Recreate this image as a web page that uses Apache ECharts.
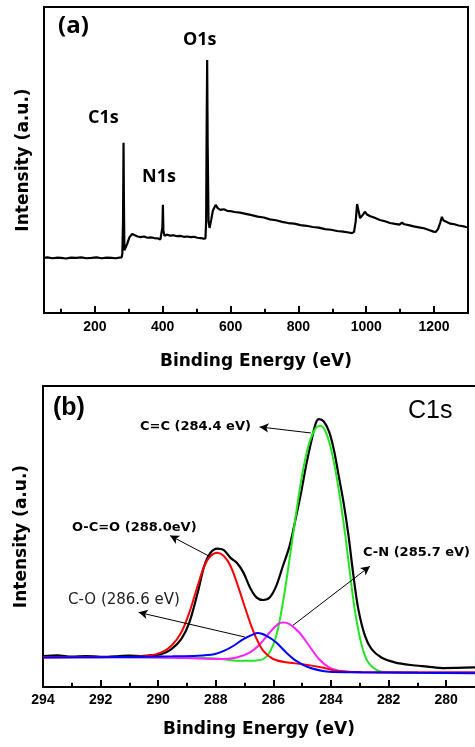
<!DOCTYPE html>
<html>
<head>
<meta charset="utf-8">
<script src="https://cdn.jsdelivr.net/npm/echarts@6/dist/echarts.min.js"></script>
<style>html,body{margin:0;padding:0;background:#fff;}#chart{width:475px;height:747px;}</style>
</head>
<body>
<div id="chart"></div>
<script>
// ---- Panel (a): survey spectrum ----
const surveyE = [50,60,75,90,100,115,130,145,160,175,190,205,220,235,250,262,272,279,281,283,284.5,285.5,287,290,295,302,310,318,326,335,345,355,365,375,385,393,397,399,400.5,402,405,412,422,432,442,452,462,472,482,492,502,512,520,526,528,529.5,531,532.5,535,538,543,548,556,562,570,580,590,600,612,628,645,662,680,698,716,734,752,770,788,806,824,842,860,878,896,914,932,948,958,964,969,973,977,982,987,992,996,1002,1012,1025,1040,1055,1070,1085,1098,1105,1112,1125,1140,1155,1170,1185,1198,1205,1212,1218,1223,1228,1236,1248,1260,1272,1284,1294,1300];
const surveyI = [18.0,18.2,17.9,18.1,18.0,17.8,18.1,18.0,18.2,17.9,18.0,18.2,17.9,18.1,18.0,17.9,18.1,18.2,19.5,30,55.6,38,20.5,20.2,22.5,24.8,25.8,25.4,25.0,24.8,25.0,24.6,24.7,24.5,24.4,24.0,24.3,28,35.4,27,25.2,25.6,25.3,25.4,25.1,25.2,24.9,25.0,24.8,24.9,24.6,24.5,24.3,24.4,30,60,82.7,55,30,27.8,30.5,33.5,35.3,34.3,33.7,33.9,33.4,33.3,33.0,32.8,32.4,32.0,31.5,31.2,30.6,30.3,29.8,29.4,29.2,28.7,28.5,28.1,27.9,27.4,27.2,26.8,26.6,26.3,26.1,26.5,30,35.6,33.5,31,30.6,32.4,33.1,32.2,31.6,31.1,30.4,30.0,29.4,29.1,28.9,29.5,29.0,28.7,28.3,28.0,27.7,27.1,26.6,26.5,27.5,29.5,31.4,30.2,29.8,29.2,29.0,28.6,28.4,28.1,28.0];
const surveyMajorTicks = [200,400,600,800,1000,1200];
const surveyMinorTicks = [100,300,500,700,900,1100];

// ---- Panel (b): C1s high-resolution ----
const blackE = [294,293.5,293,292.5,292,291.5,291,290.6,290.3,289.9,289.54,289.2,288.92,288.63,288.4,288.18,287.95,287.72,287.49,287.27,287.04,286.81,286.58,286.35,286.13,285.9,285.67,285.44,285.21,285.04,284.87,284.7,284.53,284.42,284.25,284.07,283.9,283.73,283.56,283.39,283.22,283.05,282.82,282.59,282.25,281.79,281.23,280.66,280.09,279.0];
const blackV = [10.3,10.5,10.1,10.3,10.0,10.2,10.4,10.3,10.5,10.9,12.6,15.9,21.4,31.3,40.2,44.6,46.0,45.5,42.9,41.3,38.0,33.0,29.7,28.9,29.7,33.6,40.2,46.8,56.7,64.5,73.3,81.0,87.6,89.0,88.2,84.9,78.8,70.0,61.1,50.1,36.9,25.8,17.0,12.6,9.8,8.2,7.3,6.8,6.3,6.5];
const greenE = [294,290,288,287.4,287.0,286.6,286.35,286.13,285.9,285.67,285.44,285.21,284.99,284.76,284.53,284.36,284.19,284.02,283.85,283.68,283.5,283.33,283.16,282.93,282.71,282.37,282.02,279.0];
const greenV = [9.9,9.8,9.5,8.8,8.7,8.8,9.3,11.5,17.0,28.0,42.4,57.8,71.1,81.0,86.0,86.8,84.9,79.9,72.2,62.3,50.1,36.9,24.7,13.7,8.2,5.4,4.9,4.8];
const redE = [294,291,290.34,289.89,289.54,289.2,288.92,288.63,288.4,288.18,287.95,287.72,287.49,287.27,287.04,286.81,286.58,286.35,286.01,285.56,284.99,284.3,283.85,282.93,279.0];
const redV = [9.9,10.0,10.4,11.5,13.7,18.1,24.7,33.6,40.2,43.5,44.6,43.5,40.2,34.7,28.0,21.4,15.9,12.0,9.3,8.2,7.6,6.5,5.4,4.9,4.8];
const blueE = [294,292,290.9,289.5,288.63,288.06,287.72,287.38,287.04,286.7,286.53,286.24,285.9,285.56,285.21,284.76,284.07,282.93,281,279.0];
const blueV = [9.8,9.9,10.0,10.2,10.4,10.9,12.0,13.7,15.9,17.5,17.9,17.0,14.8,11.5,8.7,6.5,5.1,4.9,4.7,4.6];
const magE = [294,290,288.63,287.72,287.27,286.81,286.47,286.13,285.84,285.67,285.44,285.1,284.76,284.42,284.07,283.73,283.16,279.0];
const magV = [9.9,9.8,9.5,9.3,9.8,11.5,14.2,18.1,20.9,21.4,20.9,18.1,13.7,9.3,6.5,5.4,4.9,4.8];
const c1sMajorTicks = [280,282,284,286,288,290,292,294];
const c1sMinorTicks = [281,283,285,287,289,291,293];
// annotation arrows: [fromE, fromV, toE, toV]
const arrows = [
  [284.70, 84.4, 286.48, 86.4],
  [288.22, 43.4, 289.59, 50.3],
  [286.99, 16.6, 290.68, 24.8],
  [285.32, 20.5, 282.65, 40.1]
];
// text annotations
const notes = [
  {text:'(a)', left:58, top:14, font:{fontFamily:'Open Sans', fontWeight:'bold', fontSize:24}},
  {text:'C1s', left:88, top:109, font:{fontFamily:'Open Sans', fontWeight:'bold', fontSize:18}},
  {text:'N1s', left:142, top:168, font:{fontFamily:'Open Sans', fontWeight:'bold', fontSize:18}},
  {text:'O1s', left:183, top:31, font:{fontFamily:'Open Sans', fontWeight:'bold', fontSize:18}},
  {text:'(b)', left:53, top:396, font:{fontFamily:'Liberation Sans', fontWeight:'bold', fontSize:25}},
  {text:'C1s', left:408, top:399, font:{fontFamily:'Liberation Sans', fontWeight:'normal', fontSize:25}},
  {text:'C=C (284.4 eV)', left:140, top:420, font:{fontFamily:'DejaVu Sans', fontWeight:'bold', fontSize:13}},
  {text:'O-C=O (288.0eV)', left:72, top:521, font:{fontFamily:'DejaVu Sans', fontWeight:'bold', fontSize:13}},
  {text:'C-O (286.6 eV)', left:68, top:593, font:{fontFamily:'DejaVu Sans', fontWeight:'normal', fontSize:15, color:'#222'}},
  {text:'C-N (285.7 eV)', left:363, top:546, font:{fontFamily:'DejaVu Sans', fontWeight:'bold', fontSize:13}}
];

function zip(a, b) { return a.map((v, i) => [v, b[i]]); }
function tickSegs(vals, len) { return vals.map(v => [{coord:[v, 0]}, {coord:[v, len]}]); }

const chart = echarts.init(document.getElementById('chart'));
const titleFont = {fontFamily:'DejaVu Sans', fontWeight:'bold', fontSize:17, color:'#000'};
const tickFont = {fontFamily:'Liberation Sans', fontWeight:'bold', fontSize:14, color:'#000'};
function AX() { return {color:'#000', width:2}; }

chart.setOption({
  animation:false,
  title: notes.map(n => ({text:n.text, left:n.left, top:n.top, padding:0,
    textStyle:Object.assign({color:'#000'}, n.font)})),
  grid:[
    {left:44, top:7, right:7, height:306, show:true, borderColor:'#000', borderWidth:2},
    {left:43, top:386, right:-8, height:301}
  ],
  xAxis:[
    {gridIndex:0, type:'value', min:50, max:1300, position:'bottom',
     name:'Binding Energy (eV)', nameLocation:'middle', nameGap:40, nameTextStyle:titleFont,
     axisLine:{show:true, onZero:false, lineStyle:AX()},
     axisTick:{show:true, inside:true, length:7, lineStyle:{color:'#000', width:2}, customValues:surveyMajorTicks},
     axisLabel:{show:true, margin:7, customValues:surveyMajorTicks, formatter:v => String(v), ...tickFont},
     splitLine:{show:false}},
    {gridIndex:1, type:'value', min:279, max:294, inverse:true, position:'bottom',
     name:'Binding Energy (eV)', nameLocation:'middle', nameGap:34, nameTextStyle:titleFont,
     axisLine:{show:true, onZero:false, lineStyle:AX()},
     axisTick:{show:true, inside:true, length:7, lineStyle:{color:'#000', width:2}, customValues:c1sMajorTicks},
     axisLabel:{show:true, margin:6, customValues:c1sMajorTicks, formatter:v => String(v), ...tickFont},
     splitLine:{show:false}},
    {gridIndex:1, type:'value', min:279, max:294, inverse:true, position:'top',
     axisLine:{show:true, onZero:false, lineStyle:AX()}, axisTick:{show:false}, axisLabel:{show:false}, splitLine:{show:false}}
  ],
  yAxis:[
    {gridIndex:0, type:'value', min:0, max:100, position:'left',
     name:'Intensity (a.u.)', nameLocation:'middle', nameGap:12, nameTextStyle:titleFont,
     axisLine:{show:true, onZero:false, lineStyle:AX()},
     axisTick:{show:false}, axisLabel:{show:false}, splitLine:{show:false}},
    {gridIndex:1, type:'value', min:0, max:100, position:'left',
     name:'Intensity (a.u.)', nameLocation:'middle', nameGap:13, nameTextStyle:titleFont,
     axisLine:{show:true, onZero:false, lineStyle:AX()},
     axisTick:{show:false}, axisLabel:{show:false}, splitLine:{show:false}}
  ],
  series:[
    {type:'line', xAxisIndex:0, yAxisIndex:0, data:zip(surveyE, surveyI), symbol:'none',
     lineStyle:{color:'#000', width:2.2},
     markLine:{silent:true, symbol:['none','none'], label:{show:false}, lineStyle:{color:'#000', width:2, type:'solid'},
       data:tickSegs(surveyMinorTicks, 1.4)}},
    {type:'line', xAxisIndex:1, yAxisIndex:1, data:zip(blackE, blackV), symbol:'none', smooth:0.3,
     lineStyle:{color:'#000', width:2.2},
     markLine:{silent:true, symbol:['none','arrow'], symbolSize:[7,9], label:{show:false},
       lineStyle:{color:'#000', width:1, type:'solid'},
       data: arrows.map(a => [{coord:[a[0], a[1]]}, {coord:[a[2], a[3]]}])}},
    {type:'line', xAxisIndex:1, yAxisIndex:1, data:zip(greenE, greenV), symbol:'none', smooth:0.3,
     lineStyle:{color:'#22e622', width:2}},
    {type:'line', xAxisIndex:1, yAxisIndex:1, data:zip(magE, magV), symbol:'none', smooth:0.3,
     lineStyle:{color:'#ff22ff', width:2}},
    {type:'line', xAxisIndex:1, yAxisIndex:1, data:zip(redE, redV), symbol:'none', smooth:0.3,
     lineStyle:{color:'#ff0000', width:2}},
    {type:'line', xAxisIndex:1, yAxisIndex:1, data:zip(blueE, blueV), symbol:'none', smooth:0.3,
     lineStyle:{color:'#0000ff', width:2},
     markLine:{silent:true, symbol:['none','none'], label:{show:false}, lineStyle:{color:'#000', width:2, type:'solid'},
       data:tickSegs(c1sMinorTicks, 1.4)}}
  ]
});
</script>
</body>
</html>
